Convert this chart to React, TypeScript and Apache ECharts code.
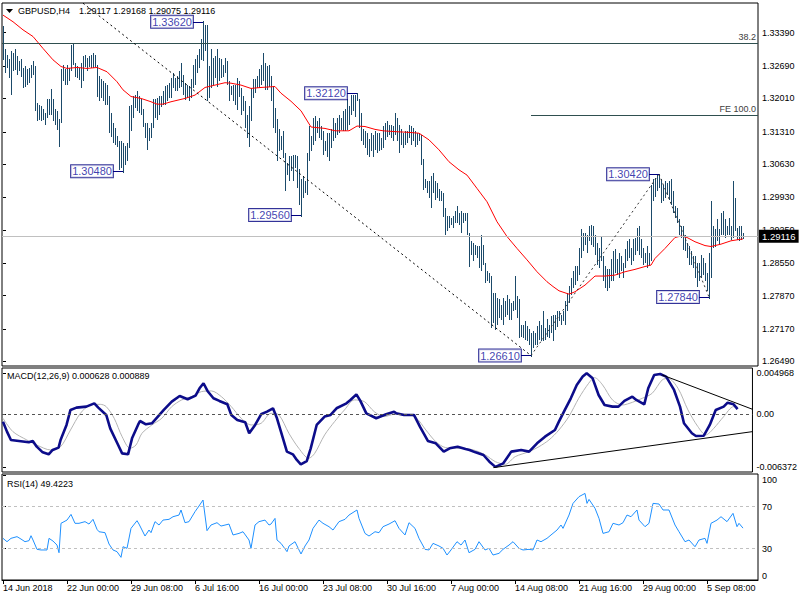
import { useEffect, useRef } from "react";
import * as echarts from "echarts";

// ---------- DATA ----------
const SYMBOL = "GBPUSD,H4";
const LAST_OHLC = ["1.29117", "1.29168", "1.29075", "1.29116"];
const LAST_CLOSE = 1.29116;
const MACD_NOW = ["0.000628", "0.000889"];
const RSI_NOW = "49.4223";

const DATE_LABELS = [
  "14 Jun 2018", "22 Jun 00:00", "29 Jun 08:00", "6 Jul 16:00", "16 Jul 00:00", "23 Jul 08:00",
  "30 Jul 16:00", "7 Aug 00:00", "14 Aug 08:00", "21 Aug 16:00", "29 Aug 00:00", "5 Sep 08:00",
];
const DATE_STEP = 32; // bars between date labels

// H4 bar highs / lows, in pips (price x 10000)
const HIGHS = [
  13352, 13303, 13292, 13282, 13299, 13296, 13303, 13289, 13278, 13282,
  13264, 13268, 13261, 13264, 13271, 13278, 13268, 13191, 13187, 13184,
  13177, 13170, 13198, 13198, 13219, 13198, 13177, 13173, 13156, 13261,
  13271, 13261, 13271, 13264, 13313, 13317, 13275, 13268, 13264, 13275,
  13289, 13292, 13285, 13289, 13292, 13296, 13292, 13271, 13247, 13240,
  13236, 13233, 13229, 13205, 13170, 13149, 13138, 13121, 13110, 13110,
  13107, 13100, 13107, 13184, 13187, 13205, 13208, 13215, 13205, 13198,
  13177, 13149, 13149, 13138, 13149, 13198, 13198, 13201, 13205, 13205,
  13215, 13226, 13229, 13233, 13243, 13254, 13243, 13247, 13257, 13275,
  13250, 13233, 13229, 13226, 13240, 13271, 13282, 13292, 13303, 13324,
  13362, 13355, 13355, 13268, 13303, 13285, 13289, 13303, 13285, 13282,
  13271, 13285, 13278, 13236, 13226, 13229, 13229, 13243, 13236, 13222,
  13205, 13194, 13166, 13184, 13222, 13240, 13240, 13247, 13261, 13271,
  13296, 13275, 13268, 13271, 13247, 13226, 13180, 13156, 13135, 13121,
  13131, 13086, 13065, 13079, 13079, 13082, 13082, 13079, 13051, 13030,
  13037, 13026, 13086, 13142, 13121, 13159, 13163, 13152, 13159, 13142,
  13131, 13110, 13128, 13128, 13135, 13159, 13149, 13159, 13166, 13159,
  13173, 13177, 13198, 13184, 13208, 13208, 13208, 13212, 13198, 13170,
  13135, 13131, 13128, 13114, 13128, 13124, 13131, 13128, 13128, 13117,
  13142, 13149, 13152, 13145, 13145, 13142, 13170, 13159, 13145, 13135,
  13128, 13131, 13131, 13145, 13142, 13138, 13131, 13128, 13128, 13124,
  13072, 13030, 13026, 13026, 13037, 13044, 13026, 13023, 13009, 13005,
  13002, 12970, 12953, 12953, 12949, 12953, 12963, 12974, 12960, 12963,
  12960, 12960, 12960, 12918, 12900, 12897, 12893, 12890, 12890, 12914,
  12893, 12855, 12837, 12834, 12827, 12792, 12792, 12781, 12778, 12767,
  12781, 12774, 12788, 12778, 12771, 12774, 12827, 12785, 12778, 12725,
  12725, 12732, 12722, 12715, 12708, 12711, 12708, 12722, 12732, 12725,
  12753, 12718, 12736, 12725, 12743, 12746, 12746, 12753, 12753, 12746,
  12753, 12774, 12792, 12806, 12823, 12837, 12848, 12848, 12886, 12925,
  12918, 12918, 12914, 12932, 12935, 12932, 12914, 12897, 12886, 12911,
  12869, 12848, 12841, 12841, 12862, 12879, 12883, 12862, 12876, 12869,
  12855, 12883, 12900, 12904, 12886, 12904, 12907, 12928, 12932, 12904,
  12886, 12876, 12890, 12876, 13019, 13030, 13033, 13040, 13042, 13030,
  13019, 13026, 13023, 13026, 13030, 13005, 12974, 12970, 12946, 12932,
  12932, 12914, 12897, 12890, 12879, 12869, 12869, 12855, 12855, 12872,
  12865, 12855, 12834, 12876, 12984, 12932, 12925, 12946, 12925, 12960,
  12963, 12946, 12932, 12949, 12932, 13026, 12991, 12928, 12932, 12932,
  12917,
];
const LOWS = [
  13285, 13257, 13268, 13247, 13212, 13261, 13264, 13254, 13261, 13250,
  13226, 13229, 13233, 13236, 13247, 13254, 13177, 13156, 13159, 13156,
  13159, 13149, 13163, 13170, 13170, 13156, 13149, 13138, 13103, 13152,
  13240, 13233, 13233, 13240, 13261, 13275, 13250, 13247, 13243, 13226,
  13240, 13271, 13261, 13271, 13268, 13268, 13271, 13208, 13198, 13205,
  13198, 13191, 13191, 13131, 13124, 13110, 13107, 13103, 13054, 13058,
  13048, 13065, 13072, 13100, 13135, 13163, 13184, 13177, 13173, 13170,
  13145, 13121, 13096, 13114, 13121, 13142, 13163, 13159, 13170, 13187,
  13191, 13191, 13198, 13205, 13205, 13226, 13219, 13219, 13226, 13229,
  13212, 13201, 13205, 13198, 13205, 13226, 13233, 13257, 13268, 13285,
  13282, 13303, 13198, 13205, 13226, 13233, 13247, 13229, 13240, 13247,
  13250, 13257, 13233, 13198, 13212, 13198, 13191, 13180, 13208, 13170,
  13177, 13142, 13121, 13103, 13156, 13205, 13215, 13226, 13226, 13233,
  13240, 13222, 13222, 13229, 13198, 13142, 13131, 13072, 13093, 13096,
  13079, 13009, 13044, 13030, 13051, 13030, 13058, 13016, 12981, 12956,
  12995, 13005, 13002, 13072, 13093, 13107, 13114, 13131, 13121, 13117,
  13086, 13093, 13082, 13072, 13100, 13114, 13121, 13128, 13131, 13138,
  13135, 13135, 13138, 13149, 13170, 13177, 13166, 13198, 13142, 13114,
  13107, 13100, 13086, 13082, 13093, 13082, 13096, 13089, 13093, 13096,
  13100, 13117, 13124, 13128, 13121, 13114, 13128, 13114, 13089, 13107,
  13100, 13107, 13110, 13121, 13107, 13114, 13103, 13107, 13114, 13065,
  13012, 13016, 13005, 12995, 12974, 13005, 12991, 12995, 12988, 12988,
  12956, 12918, 12925, 12932, 12939, 12932, 12942, 12942, 12939, 12921,
  12942, 12946, 12918, 12851, 12876, 12862, 12876, 12869, 12848, 12841,
  12855, 12816, 12820, 12816, 12722, 12732, 12718, 12729, 12743, 12739,
  12729, 12746, 12750, 12739, 12739, 12757, 12760, 12743, 12701, 12704,
  12701, 12697, 12694, 12687, 12661, 12680, 12687, 12687, 12697, 12694,
  12694, 12697, 12704, 12701, 12711, 12694, 12718, 12725, 12736, 12729,
  12736, 12729, 12757, 12774, 12792, 12806, 12813, 12820, 12834, 12869,
  12883, 12897, 12879, 12904, 12897, 12893, 12876, 12855, 12848, 12862,
  12820, 12806, 12799, 12806, 12820, 12820, 12837, 12834, 12827, 12841,
  12827, 12848, 12862, 12869, 12855, 12862, 12876, 12883, 12876, 12869,
  12855, 12858, 12848, 12855, 12862, 12988, 12998, 13009, 13016, 12984,
  12988, 12995, 13002, 12991, 12981, 12963, 12953, 12942, 12918, 12911,
  12886, 12883, 12869, 12855, 12855, 12848, 12827, 12809, 12820, 12827,
  12834, 12820, 12799, 12784, 12827, 12890, 12893, 12904, 12897, 12918,
  12918, 12911, 12918, 12918, 12907, 12911, 12925, 12907, 12904, 12907,
  12908,
];

// moving average (red), sampled at bar indices, pips
const MA_BARS = [0, 5, 10, 15, 20, 25, 29, 32, 37, 42, 47, 52, 57, 60, 64, 69, 74, 77, 80, 84, 89, 91, 96, 101, 106, 111, 114, 119, 124, 129, 136, 139, 144, 149, 154, 161, 166, 173, 177, 181, 186, 190, 197, 202, 208, 213, 218, 223, 228, 232, 237, 242, 247, 252, 257, 262, 267, 272, 275, 278, 283, 286, 291, 296, 301, 306, 311, 316, 321, 324, 326, 331, 336, 339, 342, 346, 351, 354, 359, 364, 370];
const MA_VALUES = [13376, 13362, 13345, 13331, 13306, 13282, 13268, 13264, 13266, 13264, 13266, 13257, 13236, 13219, 13205, 13201, 13194, 13189, 13189, 13194, 13199, 13201, 13208, 13224, 13229, 13234, 13233, 13229, 13222, 13224, 13226, 13212, 13195, 13175, 13141, 13138, 13133, 13133, 13143, 13142, 13136, 13133, 13131, 13130, 13128, 13114, 13093, 13068, 13051, 13040, 13012, 12984, 12942, 12911, 12886, 12862, 12837, 12816, 12806, 12797, 12790, 12795, 12809, 12828, 12828, 12830, 12837, 12842, 12848, 12851, 12865, 12886, 12909, 12912, 12909, 12900, 12892, 12890, 12895, 12902, 12906];

// MACD main line and signal line
const MACD_BARS = [0, 2, 4, 8, 13, 15, 17, 20, 23, 25, 28, 29, 32, 34, 37, 42, 46, 48, 52, 54, 58, 60, 63, 65, 68, 69, 72, 75, 78, 81, 85, 89, 93, 97, 99, 101, 103, 106, 109, 113, 115, 118, 122, 124, 127, 130, 133, 136, 138, 140, 143, 146, 148, 150, 153, 155, 158, 162, 165, 168, 173, 175, 178, 180, 183, 188, 193, 197, 198, 202, 207, 210, 214, 218, 222, 225, 229, 233, 235, 238, 242, 245, 248, 252, 256, 261, 265, 269, 273, 278, 280, 283, 286, 289, 292, 294, 297, 300, 303, 307, 310, 313, 317, 319, 323, 325, 328, 331, 334, 338, 341, 343, 347, 349, 353, 356, 359, 363, 365, 368, 370];
const MACD_VALUES = [-0.00089, -0.0021, -0.00311, -0.00323, -0.00339, -0.00323, -0.00392, -0.00461, -0.00485, -0.00432, -0.00404, -0.00311, -0.00129, 0.00053, 0.00081, 0.00093, 0.00133, 0.00081, -0.00008, -0.0017, -0.00372, -0.00473, -0.00485, -0.00291, -0.00129, -0.00081, -0.00121, -0.00109, -0.00028, 0.00053, 0.00154, 0.00222, 0.00182, 0.00226, 0.00315, 0.00376, 0.00283, 0.00194, 0.00162, 0.00121, -0.00008, -0.00069, -0.00097, -0.0023, -0.00129, 0, 0.00032, 0.00073, -0.00048, -0.0021, -0.00452, -0.00485, -0.00553, -0.00606, -0.00566, -0.00412, -0.00129, -0.00028, -0.00008, 0.00073, 0.00133, 0.00174, 0.00242, 0.00162, 0.00012, -0.00048, 0, 0.00032, 0.00012, -0.00008, -0.00008, -0.00149, -0.00323, -0.00351, -0.00452, -0.00412, -0.00392, -0.0042, -0.00432, -0.00461, -0.00493, -0.00574, -0.00637, -0.00594, -0.00452, -0.00432, -0.00452, -0.00351, -0.00271, -0.0019, -0.00089, 0.00053, 0.00194, 0.00356, 0.00457, 0.00497, 0.00436, 0.00234, 0.00113, 0.00093, 0.00093, 0.00162, 0.00214, 0.00174, 0.00121, 0.00315, 0.00477, 0.00489, 0.00457, 0.00295, 0.00093, -0.00109, -0.0023, -0.00263, -0.00259, -0.00129, 0.00053, 0.00093, 0.00141, 0.00121, 0.00063];
const SIGNAL_BARS = [0, 5, 12, 17, 24, 29, 34, 39, 44, 49, 52, 56, 60, 64, 67, 70, 75, 80, 85, 90, 95, 100, 105, 110, 115, 120, 125, 130, 135, 139, 144, 149, 154, 157, 162, 167, 172, 177, 182, 187, 192, 197, 203, 208, 213, 218, 223, 230, 237, 243, 248, 253, 258, 265, 270, 275, 280, 285, 290, 295, 298, 302, 307, 312, 317, 322, 327, 332, 335, 340, 345, 350, 354, 358, 363, 368, 370];
const SIGNAL_VALUES = [-0.00048, -0.0021, -0.00311, -0.00372, -0.00432, -0.00392, -0.0019, 0.00012, 0.00113, 0.00121, 0.00093, -0.00048, -0.00271, -0.00412, -0.00372, -0.0023, -0.00129, -0.00048, 0.00093, 0.00174, 0.00214, 0.00275, 0.00283, 0.00214, 0.00093, -0.00048, -0.00129, -0.00109, 0.00012, -0.00008, -0.0023, -0.00412, -0.00533, -0.00473, -0.0025, -0.00089, 0.00053, 0.00174, 0.00154, 0.00032, -0.00028, 0, 0, -0.0004, -0.0019, -0.00331, -0.00404, -0.00412, -0.00432, -0.00493, -0.00574, -0.00606, -0.00513, -0.00452, -0.00392, -0.00311, -0.0019, -0.00028, 0.00194, 0.00376, 0.00444, 0.00356, 0.00174, 0.00113, 0.00145, 0.00194, 0.00255, 0.00416, 0.00436, 0.00315, 0.00053, -0.00149, -0.0025, -0.0017, -0.00028, 0.00093, 0.00089];

// RSI(14)
const RSI_BARS = [0, 2, 4, 7, 9, 11, 13, 14, 15, 17, 19, 22, 23, 25, 27, 28, 29, 32, 34, 36, 38, 41, 43, 45, 47, 48, 51, 53, 55, 57, 59, 60, 62, 64, 67, 68, 71, 73, 74, 76, 78, 80, 83, 85, 88, 89, 91, 93, 96, 98, 100, 102, 104, 107, 109, 113, 115, 118, 120, 123, 124, 126, 128, 131, 133, 134, 136, 137, 139, 142, 143, 146, 148, 149, 151, 153, 155, 158, 160, 163, 165, 168, 171, 173, 177, 178, 181, 183, 186, 188, 190, 193, 196, 198, 201, 203, 206, 208, 211, 213, 215, 218, 220, 222, 224, 227, 229, 231, 233, 236, 238, 241, 243, 245, 248, 250, 253, 255, 258, 260, 263, 265, 267, 269, 272, 274, 277, 279, 280, 283, 285, 288, 291, 292, 293, 296, 298, 300, 303, 305, 308, 310, 312, 314, 317, 318, 321, 323, 325, 328, 330, 333, 336, 338, 341, 343, 346, 348, 351, 352, 354, 357, 359, 362, 365, 367, 368, 370];
const RSI_VALUES = [39.7, 36.5, 39.7, 41.3, 39.0, 36.5, 37.5, 42.2, 38.1, 29.2, 28.6, 28.6, 39.7, 37.1, 33.3, 26.0, 54.0, 57.1, 62.5, 54.0, 54.0, 55.6, 53.3, 57.8, 48.3, 46.0, 45.1, 34.3, 28.6, 27.0, 21.6, 31.7, 30.2, 49.2, 56.5, 53.3, 41.9, 47.6, 45.1, 55.6, 52.4, 57.1, 57.8, 60.3, 61.9, 66.7, 54.6, 55.6, 65.1, 70.5, 76.2, 47.0, 52.4, 54.6, 51.4, 53.3, 42.9, 44.4, 46.0, 38.1, 30.2, 52.4, 55.6, 57.1, 52.4, 53.3, 58.7, 38.1, 34.9, 27.0, 32.4, 36.5, 28.6, 24.8, 32.4, 38.1, 49.2, 57.1, 54.0, 50.8, 47.6, 55.6, 57.8, 61.9, 66.7, 58.7, 44.4, 41.9, 46.0, 45.1, 50.8, 53.3, 56.5, 49.2, 42.9, 54.6, 49.2, 39.7, 29.2, 28.6, 34.9, 32.4, 30.2, 23.8, 28.6, 36.5, 33.3, 38.1, 26.0, 29.2, 36.5, 28.6, 30.2, 23.8, 25.4, 29.2, 33.3, 36.5, 30.2, 28.6, 29.2, 28.6, 38.1, 36.5, 39.7, 42.9, 47.6, 52.4, 49.2, 61.9, 73.0, 79.4, 82.5, 73.0, 76.8, 68.3, 58.7, 44.4, 46.0, 54.0, 52.4, 54.6, 61.9, 60.3, 66.7, 57.1, 50.8, 54.0, 73.0, 72.4, 66.7, 66.7, 52.4, 46.0, 36.5, 38.1, 31.7, 38.1, 39.7, 34.9, 54.0, 57.1, 60.3, 55.6, 63.5, 50.8, 54.0, 49.42];

// axis tick labels
const PRICE_TICKS = [1.2649, 1.2717, 1.2787, 1.2855, 1.2925, 1.2993, 1.3063, 1.3131, 1.3201, 1.3269, 1.3339];
const MACD_TICKS = [-0.006372, 0, 0.004968];
const RSI_TICKS = [0, 30, 70, 100];
const RSI_LEVELS = [30, 70];

// swing-point labels
const PIVOT_BARS = [100, 60, 149, 177, 328, 353, 264];
const PIVOT_PRICES = [1.3362, 1.3048, 1.2956, 1.3212, 1.3042, 1.2784, 1.2661];

// drawn studies
const FIB_382 = 1.3316;
const FE_100 = 1.3165;
const FE_BARS = [264, 328, 353];
const FE_PRICES = [1.2661, 1.3042, 1.2784];
const RETRACE_BARS = [40, 264];
const RETRACE_PRICES = [1.3401, 1.2661];
const MACD_UPPER_BARS = [332, 377.5];
const MACD_UPPER_VALUES = [0.00477, 0.00061];
const MACD_LOWER_BARS = [247, 377.5];
const MACD_LOWER_VALUES = [-0.00646, -0.0021];

// ---------- STYLE ----------
const FONT = "'Liberation Sans', Arial, sans-serif";
const BAR_COLOR = "#1b4a6a";
const X_MIN = -0.5;
const X_MAX = 377.5;
const LABEL_SHIFT = 15.5;
const CONNECT_GAP = 5;

function buildOption(): any {
  const pip = (v: number) => v / 10000;
  const barData = HIGHS.map((h, i) => [i, pip(h), pip(LOWS[i])]);
  const maData = MA_BARS.map((b, k) => [b, pip(MA_VALUES[k])]);
  const macdData = MACD_BARS.map((b, k) => [b, MACD_VALUES[k]]);
  const sigData = SIGNAL_BARS.map((b, k) => [b, SIGNAL_VALUES[k]]);
  const rsiData = RSI_BARS.map((b, k) => [b, RSI_VALUES[k]]);
  const dateTicks = DATE_LABELS.map((_, k) => k * DATE_STEP);

  const axisText = { fontSize: 9, fontFamily: FONT, color: "#000" };
  const hiddenX = (g: number) => ({ type: "value", gridIndex: g, min: X_MIN, max: X_MAX, show: false });
  const yBase = (g: number, min: number, max: number, ticks: number[], fmt: (v: number) => string, extra: any = {}) => ({
    type: "value",
    gridIndex: g,
    position: "right",
    min,
    max,
    splitLine: { show: false },
    axisLine: { show: false },
    axisTick: { show: true, customValues: ticks, length: 3, lineStyle: { color: "#000" } },
    axisLabel: { customValues: ticks, formatter: fmt, margin: 4, ...axisText, ...extra },
  });
  const gridBase = { left: 2, width: 756, show: true, borderColor: "#000", borderWidth: 1, backgroundColor: "#fff" };
  const dotted = (color: string) => ({ color, width: 1, type: [2, 3] });

  return {
    animation: false,
    backgroundColor: "#fff",
    grid: [
      { ...gridBase, top: 3, height: 363 },
      { ...gridBase, top: 368, height: 104 },
      { ...gridBase, top: 474, height: 106 },
    ],
    xAxis: [
      hiddenX(0),
      hiddenX(1),
      {
        type: "value",
        gridIndex: 2,
        min: X_MIN,
        max: X_MAX,
        splitLine: { show: false },
        axisLine: { show: true, lineStyle: { color: "#000" } },
        axisTick: { show: true, customValues: dateTicks, length: 4, lineStyle: { color: "#000" } },
        axisLabel: {
          customValues: dateTicks,
          formatter: (v: number) => DATE_LABELS[Math.round(v / DATE_STEP)] ?? "",
          align: "left",
          margin: 3,
          ...axisText,
        },
      },
    ],
    yAxis: [
      yBase(0, 1.26391, 1.34014, PRICE_TICKS, (v) => v.toFixed(5)),
      yBase(1, -0.00699, 0.00561, MACD_TICKS, (v) => (v === 0 ? "0.00" : v.toFixed(6))),
      yBase(2, 0, 101, RSI_TICKS, (v) => String(v), { verticalAlignMinLabel: "bottom", verticalAlignMaxLabel: "top" }),
    ],
    graphic: [
      { type: "text", z: -10, left: 180, top: 285, style: { text: "ActionForex.com", fill: "#c8c8c8", fontSize: 23, fontFamily: FONT } },
      { type: "polygon", shape: { points: [[6, 9], [13, 9], [9.5, 13]] }, style: { fill: "#000" } },
      { type: "text", x: 18, y: 11, style: { text: SYMBOL, fill: "#000", fontSize: 9, fontFamily: FONT, verticalAlign: "middle" } },
      { type: "text", x: 79, y: 11, style: { text: LAST_OHLC.join(" "), fill: "#000", fontSize: 9, fontFamily: FONT, verticalAlign: "middle" } },
      { type: "text", x: 7, y: 376, style: { text: `MACD(12,26,9) ${MACD_NOW.join(" ")}`, fill: "#000", fontSize: 9, fontFamily: FONT, verticalAlign: "middle" } },
      { type: "text", x: 7, y: 484, style: { text: `RSI(14) ${RSI_NOW}`, fill: "#000", fontSize: 9, fontFamily: FONT, verticalAlign: "middle" } },
    ],
    series: [
      {
        type: "custom",
        name: "bars",
        xAxisIndex: 0,
        yAxisIndex: 0,
        silent: true,
        data: barData,
        encode: { x: 0, y: [1, 2] },
        renderItem: (_p: any, api: any) => {
          const i = api.value(0);
          const top = api.coord([i, api.value(1)]);
          const bot = api.coord([i, api.value(2)]);
          const x = Math.round(top[0]) + 0.5;
          return {
            type: "line",
            shape: { x1: x, y1: Math.floor(top[1]), x2: x, y2: Math.ceil(bot[1]) + 1 },
            style: { stroke: BAR_COLOR, lineWidth: 1 },
          };
        },
        z: 2,
      },
      {
        type: "line",
        name: "MA",
        xAxisIndex: 0,
        yAxisIndex: 0,
        data: maData,
        symbol: "none",
        smooth: false,
        lineStyle: { color: "#ff0000", width: 1 },
        silent: true,
        z: 3,
        markLine: {
          silent: true,
          precision: 5,
          symbol: ["none", "none"],
          label: { show: false },
          emphasis: { disabled: true },
          data: [
            {
              yAxis: FIB_382,
              lineStyle: { color: "#2f4f4f", width: 1, type: "solid" },
              label: { show: true, position: "insideEndTop", formatter: "38.2", color: "#404040", fontSize: 9, fontFamily: FONT, distance: [2, 2] },
            },
            [
              {
                coord: [FE_BARS[0], FE_100],
                lineStyle: { color: "#2f4f4f", width: 1, type: "solid" },
                label: { show: true, position: "insideEndTop", formatter: "FE 100.0", color: "#404040", fontSize: 9, fontFamily: FONT, distance: [2, 2] },
              },
              { coord: [X_MAX, FE_100] },
            ],
            {
              yAxis: LAST_CLOSE,
              lineStyle: { color: "#c0c0c0", width: 1, type: "solid" },
              label: {
                show: true,
                position: "end",
                formatter: LAST_CLOSE.toFixed(5),
                color: "#fff",
                backgroundColor: "#000",
                padding: [2, 3, 1, 3],
                distance: 1,
                fontSize: 9.5,
                fontFamily: FONT,
              },
            },
            [
              { coord: [RETRACE_BARS[0], RETRACE_PRICES[0]], lineStyle: dotted("#000") },
              { coord: [RETRACE_BARS[1], RETRACE_PRICES[1]] },
            ],
            [
              { coord: [FE_BARS[0], FE_PRICES[0]], lineStyle: dotted("#333") },
              { coord: [FE_BARS[1], FE_PRICES[1]] },
            ],
            [
              { coord: [FE_BARS[1], FE_PRICES[1]], lineStyle: dotted("#333") },
              { coord: [FE_BARS[2], FE_PRICES[2]] },
            ],
          ],
        },
      },
      {
        type: "scatter",
        name: "pivots",
        xAxisIndex: 0,
        yAxisIndex: 0,
        silent: true,
        symbolSize: 1,
        itemStyle: { color: "rgba(0,0,0,0)" },
        data: PIVOT_BARS.map((b, k) => [b - LABEL_SHIFT, PIVOT_PRICES[k]]),
        label: {
          show: true,
          position: "inside",
          formatter: (p: any) => p.value[1].toFixed(5),
          color: "#0c0c9c",
          fontSize: 11,
          fontFamily: FONT,
          backgroundColor: "#fff",
          borderColor: "#000080",
          borderWidth: 1,
          padding: [1, 1, 0, 1],
        },
        z: 6,
        markLine: {
          silent: true,
          precision: 5,
          symbol: ["none", "none"],
          label: { show: false },
          lineStyle: { color: "#000080", width: 1, type: "solid" },
          data: PIVOT_BARS.map((b, k) => [{ coord: [b - CONNECT_GAP, PIVOT_PRICES[k]] }, { coord: [b, PIVOT_PRICES[k]] }]),
        },
      },
      {
        type: "line",
        name: "MACD",
        xAxisIndex: 1,
        yAxisIndex: 1,
        data: macdData,
        symbol: "none",
        lineStyle: { color: "#0c0c8a", width: 2.6 },
        silent: true,
        z: 4,
        markLine: {
          silent: true,
          precision: 6,
          symbol: ["none", "none"],
          label: { show: false },
          data: [
            { yAxis: 0, lineStyle: { color: "#555", width: 1, type: [3, 3] } },
            [
              { coord: [MACD_UPPER_BARS[0], MACD_UPPER_VALUES[0]], lineStyle: { color: "#000", width: 1, type: "solid" } },
              { coord: [MACD_UPPER_BARS[1], MACD_UPPER_VALUES[1]] },
            ],
            [
              { coord: [MACD_LOWER_BARS[0], MACD_LOWER_VALUES[0]], lineStyle: { color: "#000", width: 1, type: "solid" } },
              { coord: [MACD_LOWER_BARS[1], MACD_LOWER_VALUES[1]] },
            ],
          ],
        },
      },
      {
        type: "line",
        name: "Signal",
        xAxisIndex: 1,
        yAxisIndex: 1,
        data: sigData,
        symbol: "none",
        smooth: 0.3,
        lineStyle: { color: "#b4b4b4", width: 1 },
        silent: true,
        z: 3,
      },
      {
        type: "line",
        name: "RSI",
        xAxisIndex: 2,
        yAxisIndex: 2,
        data: rsiData,
        symbol: "none",
        lineStyle: { color: "#1e90ff", width: 1 },
        silent: true,
        z: 3,
        markLine: {
          silent: true,
          symbol: ["none", "none"],
          label: { show: false },
          lineStyle: { color: "#c0c0c0", width: 1, type: [3, 3] },
          data: RSI_LEVELS.map((v) => ({ yAxis: v })),
        },
      },
    ],
  };
}

export default function App() {
  const ref = useRef<HTMLDivElement>(null);
  useEffect(() => {
    if (!ref.current) return;
    const chart = echarts.init(ref.current, null, { renderer: "svg" });
    chart.setOption(buildOption());
    return () => chart.dispose();
  }, []);
  return (
    <div
      ref={ref}
      style={{ position: "fixed", left: 0, top: 0, width: 800, height: 600, background: "#fff" }}
    />
  );
}
